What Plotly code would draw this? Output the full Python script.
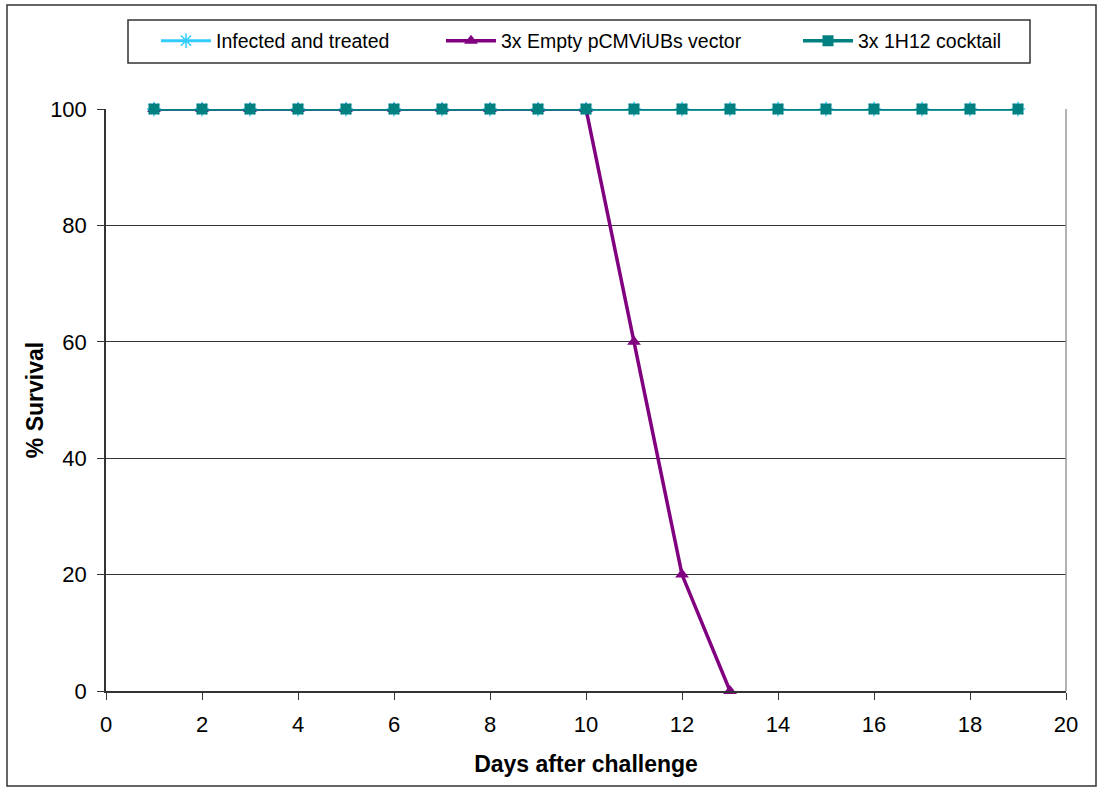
import plotly.graph_objects as go

days_all = list(range(1, 20))
infected_treated = [100] * 19
days_empty = list(range(1, 14))
empty_vector = [100, 100, 100, 100, 100, 100, 100, 100, 100, 100, 60, 20, 0]
cocktail = [100] * 19

names = ["Infected and treated", "3x Empty pCMViUBs vector", "3x 1H12 cocktail"]
colors = ["#33CCFF", "#800080", "#008080"]

W, H = 1097, 787
L, R, T, B = 106, 1066, 109, 691

def px(x):
    return (x - L) / (R - L)

def py(y):
    return (B - y) / (B - T)

fig = go.Figure()
fig.add_trace(go.Scatter(x=days_all, y=infected_treated, name=names[0], mode="lines+markers",
                         line=dict(color=colors[0], width=3), cliponaxis=False,
                         marker=dict(symbol="asterisk-open", size=12, line=dict(color=colors[0], width=1.5)),
                         legend="legend"))
fig.add_trace(go.Scatter(x=days_empty, y=empty_vector, name=names[1], mode="lines+markers",
                         line=dict(color=colors[1], width=3.5), cliponaxis=False,
                         marker=dict(symbol="triangle-up", size=12, color=colors[1]),
                         legend="legend2"))
fig.add_trace(go.Scatter(x=days_all, y=cocktail, name=names[2], mode="lines+markers",
                         line=dict(color=colors[2], width=3.5), cliponaxis=False,
                         marker=dict(symbol="square", size=11, color=colors[2]),
                         legend="legend3"))

font = "Liberation Sans, Arial, sans-serif"
leg_common = dict(orientation="h", font=dict(family=font, size=19.5, color="black"),
                  bgcolor="rgba(0,0,0,0)", borderwidth=0, xanchor="left", yanchor="middle",
                  itemwidth=50, tracegroupgap=0)

fig.update_layout(
    width=W, height=H,
    margin=dict(l=L, r=W - R, t=T, b=H - B),
    paper_bgcolor="white", plot_bgcolor="white",
    font=dict(family=font, size=16, color="black"),
    showlegend=True,
    legend=dict(x=px(156), y=py(41), **leg_common),
    legend2=dict(x=px(441), y=py(41), **leg_common),
    legend3=dict(x=px(798), y=py(41), **leg_common),
    xaxis=dict(range=[0, 20], tickmode="linear", tick0=0, dtick=2,
               showgrid=False, zeroline=False, showline=True, linecolor="#333333", linewidth=1.5,
               ticks="outside", ticklen=7, tickcolor="#333333", ticklabelstandoff=6,
               tickfont=dict(size=22, family=font),
               title=dict(text="<b>Days after challenge</b>", font=dict(size=23, family=font), standoff=20),
               mirror=False),
    yaxis=dict(range=[0, 100], tickmode="linear", tick0=0, dtick=20,
               showgrid=True, gridcolor="#333333", gridwidth=1, zeroline=False,
               showline=True, linecolor="#333333", linewidth=1.5,
               ticks="outside", ticklen=7, tickcolor="#333333", ticklabelstandoff=6,
               tickfont=dict(size=22, family=font),
               title=dict(text="<b>% Survival</b>", font=dict(size=23, family=font), standoff=0)),
    shapes=[
        dict(type="line", xref="paper", yref="paper", x0=1, x1=1, y0=0, y1=1,
             line=dict(color="#999999", width=1.5)),
        dict(type="rect", xref="paper", yref="paper", x0=px(128), x1=px(1030), y0=py(20), y1=py(63),
             line=dict(color="#333333", width=1.5), fillcolor="rgba(0,0,0,0)"),
        dict(type="rect", xref="paper", yref="paper", x0=px(7), x1=px(1096), y0=py(5), y1=py(786),
             line=dict(color="#333333", width=1.5), fillcolor="rgba(0,0,0,0)"),
    ],
)

fig.write_html("out.html")
